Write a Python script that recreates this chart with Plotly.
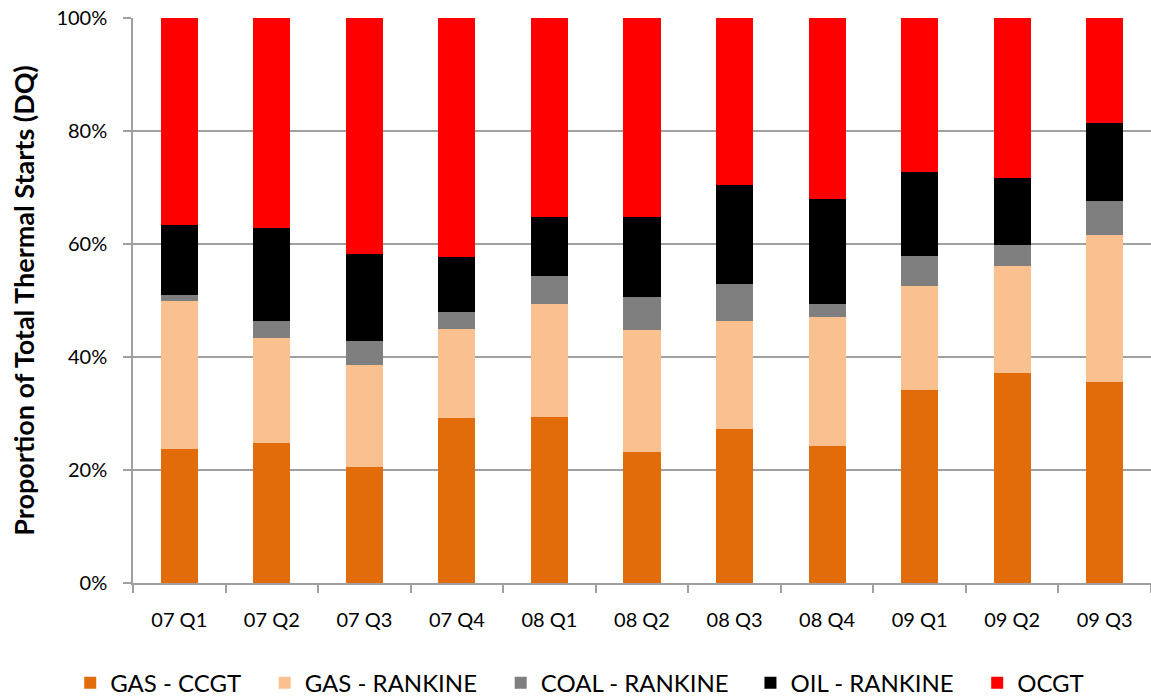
import plotly.graph_objects as go

# Quarter labels
quarters = ["07 Q1", "07 Q2", "07 Q3", "07 Q4", "08 Q1", "08 Q2",
            "08 Q3", "08 Q4", "09 Q1", "09 Q2", "09 Q3"]

# Share of total thermal starts by technology (%)
gas_ccgt = [23.8, 24.8, 20.5, 29.2, 29.4, 23.2, 27.3, 24.3, 34.1, 37.1, 35.5]
gas_rankine = [26.1, 18.6, 18.0, 15.8, 19.9, 21.5, 19.1, 22.8, 18.5, 19.0, 26.1]
coal_rankine = [1.1, 3.0, 4.3, 3.0, 5.0, 6.0, 6.5, 2.3, 5.2, 3.8, 6.0]
oil_rankine = [12.4, 16.5, 15.5, 9.7, 10.5, 14.1, 17.6, 18.6, 14.9, 11.7, 13.8]
ocgt = [36.6, 37.1, 41.7, 42.3, 35.2, 35.2, 29.5, 32.0, 27.3, 28.4, 18.6]

series = [
    ("GAS - CCGT", gas_ccgt, "#E36C0A"),
    ("GAS - RANKINE", gas_rankine, "#FAC090"),
    ("COAL - RANKINE", coal_rankine, "#7F7F7F"),
    ("OIL - RANKINE", oil_rankine, "#000000"),
    ("OCGT", ocgt, "#FF0000"),
]

# Left edge of each legend entry along the bottom row (fraction of page width)
legend_x = [0.061, 0.230, 0.435, 0.652, 0.849]

font_family = "Lato, 'Open Sans', sans-serif"

fig = go.Figure()
legend_layout = {}
for i, (name, vals, color) in enumerate(series):
    key = "legend" if i == 0 else f"legend{i + 1}"
    fig.add_trace(go.Bar(
        x=quarters, y=vals, name=name,
        marker=dict(color=color, line=dict(width=0)),
        legend=key,
    ))
    legend_layout[key] = dict(
        orientation="h",
        xref="container", x=legend_x[i], xanchor="left",
        yref="container", y=0.02, yanchor="middle",
        font=dict(size=24, family=font_family, color="#000000"),
        bgcolor="rgba(0,0,0,0)",
        itemwidth=30,
    )

fig.update_layout(
    barmode="stack",
    bargap=0.6,
    width=1151, height=697,
    margin=dict(l=133, r=0, t=18, b=114),
    plot_bgcolor="white",
    paper_bgcolor="white",
    font=dict(family=font_family, color="#000000"),
    showlegend=True,
    **legend_layout,
)

fig.update_yaxes(
    range=[0, 100],
    tickvals=[0, 20, 40, 60, 80, 100],
    ticktext=["0%", "20%", "40%", "60%", "80%", "100%"],
    tickfont=dict(size=20, color="#000000"),
    ticklabelstandoff=12,
    showgrid=True, gridcolor="#A0A0A0", gridwidth=1.5,
    showline=True, linecolor="#A0A0A0", linewidth=1.5,
    ticks="outside", ticklen=8, tickcolor="#A0A0A0", tickwidth=1.5,
    title=dict(text="<b>Proportion of Total Thermal Starts (DQ)</b>",
               font=dict(size=27, color="#000000"), standoff=14),
    zeroline=False,
)

fig.update_xaxes(
    tickfont=dict(size=20, color="#000000"),
    ticklabelstandoff=18,
    showline=True, linecolor="#A0A0A0", linewidth=1.5,
    ticks="outside", tickson="boundaries", ticklen=8,
    tickcolor="#A0A0A0", tickwidth=1.5,
    showgrid=False,
)

fig.write_html("out.html")
